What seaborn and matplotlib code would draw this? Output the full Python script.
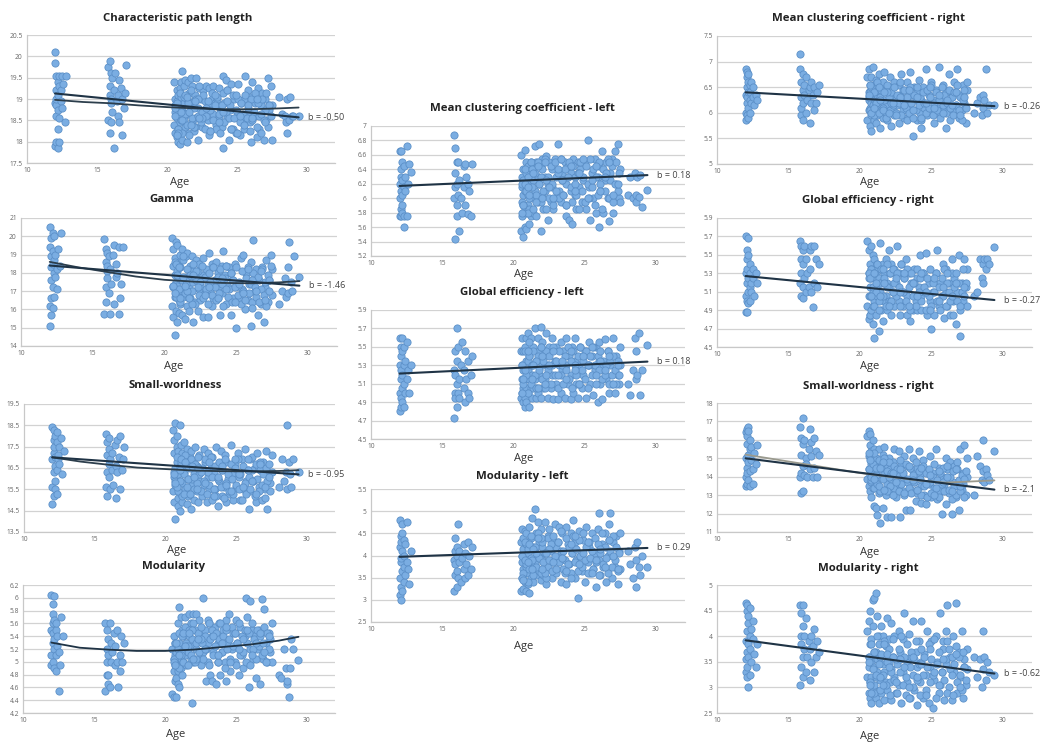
import matplotlib
matplotlib.use("Agg")
import matplotlib.pyplot as plt
import pandas as pd
import seaborn as sns

ages = [12.0,12.0,12.0,12.0,12.1,12.1,12.1,12.1,12.1,12.1,
12.2,12.2,12.2,12.2,12.2,12.3,12.3,12.3,12.3,12.4,
12.4,12.5,12.5,12.6,12.7,12.8,
15.8,15.8,15.9,15.9,15.9,15.9,16.0,16.0,16.0,16.0,
16.1,16.1,16.2,16.2,16.3,16.4,16.5,16.5,16.6,16.6,
16.7,16.8,16.8,16.9,17.0,17.1,
20.5,20.5,20.6,20.6,20.6,20.6,20.7,20.7,20.7,20.7,
20.8,20.8,20.8,20.8,20.9,20.9,20.9,20.9,21.0,21.0,
21.0,21.0,21.1,21.1,21.1,21.2,21.2,21.2,21.3,21.3,
21.4,21.4,21.5,21.5,21.6,21.6,21.7,21.7,21.8,21.8,
21.9,21.9,22.0,22.0,22.1,22.2,22.2,22.3,22.4,22.4,
22.5,22.6,22.7,22.7,22.8,22.9,23.0,23.0,23.1,23.2,
23.3,23.3,23.4,23.5,23.6,23.7,23.7,23.8,23.9,24.0,
24.0,24.1,24.2,24.3,24.3,24.4,24.5,24.6,24.7,24.8,
24.9,25.0,25.1,25.2,25.3,25.4,25.5,25.6,25.7,25.8,
25.9,26.0,26.0,26.1,26.2,26.3,26.4,26.5,26.6,26.7,
26.8,26.9,27.0,27.1,27.2,27.3,27.4,27.5,27.5,28.0,
28.2,28.4,28.5,28.6,28.6,28.7,28.8,28.9,29.0,29.4,
20.6,20.7,20.8,20.9,21.0,21.0,21.1,21.2,21.3,21.4,
21.5,21.6,21.7,21.8,21.9,22.0,22.1,22.2,22.3,22.4,
22.5,22.6,22.7,22.8,22.9,23.0,23.1,23.2,23.3,23.4,
23.5,23.6,23.7,23.8,23.9,24.0,24.1,24.2,24.3,24.4,
24.5,24.6,24.7,24.8,24.9,25.0,25.1,25.2,25.3,25.4,
25.5,25.6,25.7,25.8,25.9,26.0,26.1,26.2,26.3,26.4,
26.5,26.6,26.7,26.8,26.9,27.0,27.1,27.2,27.3,27.4,
20.6,20.8,21.1,21.3,21.6,21.9,22.2,22.5,22.8,23.1,
23.4,23.7,24.0,24.3,24.6,24.9,25.2,25.5,25.8,26.1,
26.4,26.7,27.0,27.3,20.7,21.0,21.4,21.7,22.0,22.3]

cpl = [20.1,19.85,18.9,17.9,19.2,18.85,18.0,19.55,18.6,19.0,
17.85,19.4,18.75,18.3,19.1,19.55,18.55,18.0,19.3,18.95,
19.2,19.55,18.8,19.35,18.45,19.55,
19.75,18.5,19.9,19.3,18.2,19.1,19.0,19.6,18.9,18.45,
19.5,18.7,17.85,19.2,19.6,18.95,18.6,19.1,19.45,18.45,
19.25,18.15,19.0,18.8,19.15,19.8,
19.4,18.4,19.0,18.7,18.2,18.85,18.1,19.2,18.55,18.95,
18.3,19.1,18.0,18.65,19.25,18.45,17.95,18.85,18.6,19.05,
18.25,19.4,18.75,18.05,19.65,18.5,19.3,18.9,18.35,19.45,
18.0,19.0,18.65,19.4,18.2,19.15,18.8,19.5,18.45,19.3,
18.95,18.25,19.1,18.55,19.5,18.05,18.8,19.25,18.6,19.0,
18.35,19.2,18.75,18.95,19.3,18.5,19.25,18.85,18.25,19.0,
18.65,19.3,18.9,18.4,19.0,18.6,19.25,18.8,18.35,19.55,
17.85,18.9,19.45,18.55,19.2,18.05,18.75,19.35,18.3,19.0,
18.2,18.7,19.35,18.15,18.9,18.5,19.0,19.55,18.65,19.2,
18.45,18.0,19.05,19.4,18.6,18.9,18.1,19.25,18.3,18.85,
19.15,18.05,19.0,18.5,19.5,18.75,19.3,18.85,18.05,19.05,
18.65,18.6,18.45,19.0,18.2,18.5,19.05,18.6,18.6,18.6,
18.6,18.9,18.3,19.15,18.5,18.75,18.2,19.05,18.65,18.4,
18.9,18.15,19.2,18.55,18.8,18.35,19.0,18.6,19.3,18.45,
18.7,19.1,18.3,18.6,18.95,18.15,18.75,19.15,18.5,18.85,
18.3,19.05,18.65,18.2,18.85,19.15,18.45,18.7,19.2,18.55,
18.85,18.3,19.1,18.55,18.75,18.2,19.0,18.45,18.9,18.65,
18.3,19.1,18.55,18.8,18.25,19.0,18.5,18.7,19.15,18.35,
18.9,18.6,18.2,19.0,18.5,18.75,19.15,18.35,18.85,18.6,
18.8,18.2,18.5,19.1,18.7,18.35,19.0,18.55,18.8,18.25,
19.1,18.45,18.7,18.95,18.3,19.1,18.6,18.4,18.85,18.55,
19.0,18.65,18.45,18.85,18.15,18.7,19.05,18.4,18.95,18.55]

gamma = [20.5,15.1,19.4,16.2,18.3,15.7,19.9,17.6,18.9,16.6,
20.2,18.5,16.1,19.2,17.2,18.0,20.0,16.7,18.7,17.8,
19.0,18.2,17.1,19.3,18.4,20.2,
19.85,15.75,18.6,17.2,19.3,16.4,18.1,17.7,19.1,18.4,
16.9,18.9,15.75,18.2,17.4,19.0,19.5,16.3,18.5,17.8,
18.0,15.75,19.4,16.6,17.4,19.4,
19.9,16.2,18.4,15.6,19.3,17.2,17.9,16.7,14.6,18.8,
17.5,15.9,19.7,16.9,18.1,17.3,15.3,19.5,16.5,18.6,
17.7,15.8,19.0,16.3,18.3,17.0,15.7,19.3,16.7,18.7,
17.4,15.5,18.9,17.8,16.2,19.1,17.2,15.9,18.4,16.6,
18.9,17.5,15.3,18.1,16.4,17.8,18.7,15.9,17.1,18.5,
16.5,17.9,15.6,18.8,16.9,18.2,17.4,15.6,19.1,17.0,
16.2,18.5,16.6,17.6,18.6,16.6,18.0,17.3,15.7,18.4,
16.9,19.2,17.9,16.3,18.4,17.2,18.3,15.7,17.6,16.6,
18.5,15.0,17.3,16.6,18.8,17.1,19.0,16.0,18.0,16.5,
17.4,15.1,18.6,16.4,19.8,17.0,18.2,15.7,17.6,16.3,
18.3,15.3,17.2,18.7,16.4,17.6,19.0,16.8,18.2,16.3,
17.0,17.7,16.7,18.3,16.9,19.7,17.5,17.0,18.9,17.8,
17.3,18.6,16.7,17.9,17.1,18.3,16.4,17.6,18.9,16.9,
17.4,18.2,16.6,17.9,17.0,18.5,16.3,17.6,18.1,16.8,
17.3,18.4,16.6,17.8,17.1,16.3,18.0,17.5,16.8,18.3,
17.2,16.5,17.8,16.9,18.2,17.4,16.2,17.7,18.4,16.7,
17.1,18.0,16.4,17.6,17.2,18.3,16.8,17.5,16.3,18.1,
17.0,16.5,17.7,18.3,16.9,17.4,16.1,18.0,17.2,16.7,
17.8,16.4,17.1,18.2,16.8,17.5,16.2,17.9,17.0,18.4,
17.3,18.5,16.6,17.8,17.0,16.3,18.1,17.5,16.8,17.2,
18.3,16.6,17.7,17.1,18.0,16.4,17.4,16.9,18.2,17.6,
17.0,18.1,16.5,17.6,16.9,18.3,17.3,16.6,17.9,17.2]

small_world = [18.4,14.8,16.9,15.6,17.8,16.3,18.3,15.2,17.2,17.5,
15.5,16.6,18.0,17.0,15.9,17.7,16.4,15.3,18.2,16.9,
17.1,17.5,16.7,17.9,16.2,17.3,
18.1,15.6,17.1,16.3,17.7,15.2,16.7,17.4,16.1,17.9,
15.5,16.9,17.2,16.4,15.7,17.6,15.1,16.6,17.8,16.3,
17.0,15.5,18.0,16.4,16.9,17.5,
18.3,15.4,17.2,16.1,14.9,17.8,15.9,18.6,16.5,14.1,
17.5,15.6,16.8,18.0,14.7,16.2,17.3,15.1,18.5,15.9,
16.6,14.5,17.6,15.3,16.9,15.8,17.2,14.9,16.3,17.7,
15.5,16.6,14.8,17.4,16.0,15.2,17.0,16.5,14.6,17.3,
15.7,16.8,15.0,16.2,17.5,15.4,16.6,14.9,17.1,15.9,
16.4,15.2,17.4,15.7,16.8,14.9,16.1,17.2,15.5,16.5,
15.0,17.0,16.3,15.5,17.5,14.7,16.6,15.9,17.3,15.2,
16.4,15.6,17.1,14.9,16.8,16.0,15.3,17.6,16.2,15.0,
16.7,15.6,17.2,16.1,15.0,16.9,15.5,17.4,15.9,16.4,
14.6,16.9,15.4,17.0,15.9,16.5,14.9,17.2,15.6,16.4,
15.0,16.8,15.5,17.3,14.6,16.2,15.8,17.1,16.3,15.6,
16.9,15.9,16.3,18.5,15.5,16.8,16.2,15.6,16.9,16.3,
16.3,15.7,17.0,15.4,16.5,15.9,16.8,15.2,16.2,17.1,
15.6,16.6,15.3,16.9,16.0,15.5,16.7,15.8,17.0,16.2,
15.4,16.5,15.9,16.9,15.3,16.3,15.7,17.0,16.1,15.5,
16.6,15.2,16.0,16.8,15.6,16.4,15.1,16.9,15.8,16.2,
15.4,16.7,16.0,15.3,16.5,15.7,16.9,15.5,16.2,15.0,
16.6,15.8,15.3,16.9,16.1,15.5,16.4,15.9,15.2,16.7,
16.0,15.4,16.8,15.7,16.2,15.1,16.5,15.9,16.7,15.4,
16.2,15.6,16.9,15.3,16.0,16.6,15.5,16.3,15.8,16.8,
15.2,16.1,16.6,15.7,15.4,16.9,16.2,15.6,16.4,15.9,
15.3,16.7,15.6,16.1,15.8,16.4,16.8,15.3,16.1,16.5]

modularity = [6.05,5.1,5.5,4.95,5.9,5.3,5.75,5.0,5.45,5.6,
6.03,5.2,4.9,5.65,5.35,5.5,5.1,4.85,5.6,5.25,
5.4,4.55,5.15,4.95,5.7,5.4,
5.6,4.55,5.2,4.8,5.5,5.0,4.65,5.35,5.1,4.8,
5.6,4.6,5.3,5.0,5.15,5.45,4.95,5.25,5.0,5.5,
4.6,5.1,4.85,5.4,5.0,5.3,
5.2,4.5,5.05,4.45,5.4,4.85,5.1,4.7,4.95,5.3,
4.45,5.15,4.75,5.0,5.6,4.65,5.25,4.85,5.1,5.85,
4.6,5.3,4.9,5.7,5.05,5.5,4.8,5.2,5.4,5.0,
5.1,5.7,5.3,4.95,5.55,5.15,5.75,5.4,5.05,5.6,
4.35,5.25,5.75,5.0,5.5,5.2,5.75,5.35,5.05,5.65,
4.95,5.4,5.15,6.0,5.5,4.7,5.3,5.0,5.6,4.8,
5.4,4.7,5.15,5.55,4.65,5.3,5.0,5.6,4.8,5.4,
5.15,5.5,5.0,4.7,5.65,5.3,5.75,4.85,5.2,5.45,
5.0,5.65,5.3,4.8,5.55,5.1,4.9,5.4,6.0,5.7,
4.6,5.2,5.95,5.5,5.05,5.4,4.75,5.2,5.5,4.65,
5.98,5.05,5.83,5.3,5.0,5.45,5.15,5.6,5.0,4.8,
4.75,5.2,4.9,4.65,4.7,4.45,4.9,5.35,5.2,5.03,
5.05,5.3,4.95,5.2,5.45,4.9,5.15,5.4,5.0,5.55,
5.25,4.95,5.5,5.1,5.35,5.6,5.0,5.3,5.45,5.15,
5.55,5.3,5.05,5.4,5.2,5.65,4.95,5.35,5.5,5.1,
5.25,5.45,5.0,5.35,5.6,5.15,5.4,4.9,5.5,5.2,
5.35,5.05,5.55,5.25,5.45,4.95,5.3,5.6,5.1,5.4,
5.15,5.5,5.0,5.3,5.45,4.95,5.6,5.2,5.35,5.05,
5.5,5.25,5.4,5.1,5.3,5.55,5.0,5.45,5.2,5.35,
5.0,5.3,5.1,5.45,5.25,5.5,5.05,5.35,5.2,5.6,
5.4,5.1,5.3,5.55,5.0,5.45,5.2,5.35,5.5,5.1,
5.3,5.45,5.15,5.4,4.95,5.1,5.25,5.45,5.05,5.35]

mcc_left = [6.65,5.75,6.2,6.0,6.4,5.85,6.65,6.1,5.75,6.3,
6.5,5.8,6.05,6.25,5.9,6.15,5.6,6.45,5.75,6.1,
6.3,5.75,6.72,6.2,6.48,6.37,
6.87,6.0,5.43,6.7,6.15,6.35,5.9,6.5,6.2,5.75,
6.05,6.5,6.25,5.55,6.0,5.8,6.45,6.15,5.9,6.48,
6.3,5.78,6.2,6.1,5.75,6.48,
6.6,5.55,6.3,5.95,6.15,5.75,5.47,6.4,6.05,6.25,
5.85,6.67,5.6,6.1,6.35,5.8,6.5,5.58,6.2,5.9,
6.45,6.05,5.65,6.3,5.85,6.5,6.15,5.75,6.4,6.0,
6.25,5.8,6.73,6.1,6.5,5.75,6.3,5.95,6.75,6.2,
5.55,6.45,6.05,6.55,5.85,6.3,6.1,6.58,5.7,6.2,
6.5,5.95,6.4,6.15,5.85,6.55,6.0,6.3,6.75,6.1,
6.55,5.95,6.35,6.05,6.5,5.75,6.2,6.45,5.7,6.1,
6.35,5.65,6.55,6.05,6.3,5.85,6.5,6.15,6.4,5.95,
6.25,6.5,5.85,6.8,6.15,5.7,6.35,6.0,6.55,5.8,
6.3,5.6,6.45,6.1,6.65,5.8,6.25,6.5,6.0,5.68,
6.35,6.55,5.8,6.65,6.2,6.75,6.0,6.4,5.95,6.05,
6.3,6.0,6.35,6.05,5.95,6.3,6.02,6.32,5.88,6.12,
6.2,5.9,6.4,6.1,5.8,6.3,6.0,6.5,6.15,5.85,
6.35,6.05,6.5,6.2,5.95,6.4,6.1,6.55,5.85,6.3,
6.0,6.45,6.2,5.9,6.5,6.1,6.35,6.0,6.55,6.25,
6.05,6.4,5.9,6.3,6.5,6.15,5.95,6.45,6.2,6.05,
6.35,5.85,6.5,6.1,6.3,5.95,6.45,6.2,6.0,6.55,
6.15,6.4,5.9,6.3,6.05,6.5,6.2,5.85,6.4,6.1,
6.35,6.55,6.0,6.25,6.45,5.95,6.2,6.5,6.1,6.35,
5.8,6.2,6.05,6.4,5.95,6.3,6.5,6.15,6.0,6.4,
6.25,5.9,6.45,6.1,6.35,6.55,6.0,6.25,6.45,6.1,
6.3,6.5,6.05,6.2,5.9,6.15,6.35,6.45,6.0,6.25]

ge_left = [5.6,4.8,5.3,5.0,5.5,4.85,5.15,5.4,4.95,5.25,
5.6,4.9,5.2,5.05,5.45,4.85,5.3,5.1,5.5,5.0,
5.35,5.15,5.55,5.25,5.0,5.3,
5.25,4.73,5.45,5.0,4.95,5.2,5.7,5.1,4.85,5.35,
5.5,5.0,5.15,4.95,5.3,5.55,5.05,5.25,4.9,5.45,
5.15,5.0,5.35,4.95,5.2,5.4,
5.45,4.95,5.3,5.0,5.6,5.15,4.9,5.45,5.05,5.25,
4.95,5.5,5.15,4.85,5.35,5.05,5.6,4.9,5.25,5.45,
5.0,5.65,5.15,4.85,5.4,5.05,5.3,5.6,4.95,5.2,
5.5,5.05,5.7,5.15,4.95,5.35,5.6,5.0,5.45,5.2,
5.72,4.95,5.3,5.55,5.05,5.45,5.15,5.65,4.95,5.3,
5.5,5.05,5.2,5.6,4.93,5.35,5.5,5.1,4.93,5.3,
5.55,5.0,5.25,5.45,4.95,5.3,5.6,5.1,5.4,4.93,
5.2,5.5,5.0,5.35,5.6,5.1,4.95,5.3,5.5,5.05,
5.2,5.45,4.95,5.3,5.55,5.1,5.4,4.98,5.25,5.5,
4.9,5.35,5.55,5.1,4.93,5.3,5.58,5.15,5.45,5.0,
5.3,5.1,5.6,5.0,5.4,5.2,5.1,5.5,5.3,5.1,
4.98,5.25,5.6,5.15,5.45,5.2,5.65,4.98,5.25,5.52,
5.3,5.1,5.45,5.2,5.0,5.35,5.55,5.1,5.3,5.45,
5.2,5.05,5.4,5.25,5.5,5.15,5.35,5.05,5.45,5.25,
5.4,5.1,5.3,5.5,5.2,5.35,5.05,5.45,5.2,5.3,
5.1,5.4,5.25,5.5,5.15,5.35,5.05,5.45,5.3,5.2,
5.4,5.1,5.5,5.25,5.35,5.15,5.45,5.05,5.3,5.4,
5.2,5.5,5.3,5.1,5.4,5.25,5.45,5.15,5.35,5.2,
5.3,5.45,5.1,5.35,5.2,5.4,5.25,5.1,5.35,5.2,
5.0,5.25,5.4,5.15,5.35,5.5,5.1,5.3,5.45,5.2,
5.35,5.15,5.45,5.25,5.1,5.4,5.3,5.5,5.2,5.35,
5.25,5.4,5.1,5.3,5.15,5.45,5.3,5.05,5.4,5.2]

mod_left = [4.8,3.1,4.2,3.5,4.45,3.0,3.85,4.3,3.3,3.95,
4.7,3.65,4.1,3.2,4.5,3.75,4.0,3.4,4.35,3.55,
4.25,3.85,4.75,3.7,3.35,4.1,
3.9,3.2,4.1,3.55,3.8,4.4,3.3,4.0,3.65,4.2,
4.7,3.5,3.85,4.1,3.4,3.95,3.7,4.25,3.5,4.05,
3.8,4.3,3.55,4.0,3.7,4.2,
4.3,3.2,3.85,4.6,3.5,4.0,3.25,4.4,3.7,4.15,
3.4,3.9,4.55,3.6,3.2,4.25,3.75,4.5,3.35,4.05,
3.6,4.3,3.85,3.15,4.65,3.95,3.5,4.4,4.85,3.7,
4.2,3.4,5.05,3.8,4.5,3.55,4.0,4.75,3.65,4.3,
3.45,4.6,3.9,4.2,3.55,4.75,4.05,3.35,4.45,3.75,
4.6,4.1,3.5,4.35,3.85,4.7,3.6,4.2,3.95,4.65,
3.4,4.1,4.5,3.7,3.9,4.65,3.35,4.25,3.8,4.5,
3.6,4.05,4.8,3.5,4.3,3.9,3.05,4.55,4.0,3.65,
4.35,3.4,4.65,3.85,4.2,3.6,4.5,3.7,4.05,3.3,
4.6,3.9,4.95,3.55,4.25,3.75,4.5,3.4,4.0,4.7,
4.95,3.5,4.3,3.75,4.45,3.35,4.1,4.5,3.7,4.1,
3.8,3.5,4.2,3.9,3.3,4.3,3.75,3.55,4.0,3.75,
4.0,3.6,4.3,3.8,3.4,4.15,3.7,4.45,3.9,3.55,
4.2,3.75,4.5,3.95,3.6,4.3,3.85,4.05,3.5,4.4,
3.9,4.25,3.65,4.45,4.0,3.7,4.3,3.85,4.55,3.95,
4.1,3.6,4.4,3.8,4.2,3.5,4.05,4.45,3.85,4.15,
3.65,4.35,4.0,3.75,4.5,3.9,4.2,3.6,4.3,3.95,
4.1,3.7,4.4,3.85,4.25,3.55,4.05,4.5,3.8,4.2,
3.95,3.6,4.35,4.1,3.75,4.45,3.9,4.2,3.65,4.05,
3.5,3.9,4.25,3.7,4.05,4.4,3.6,4.15,3.85,4.3,
3.95,3.65,4.25,4.45,3.8,4.05,4.3,3.6,3.9,4.15,
3.75,4.35,4.0,3.7,3.45,3.85,4.15,4.4,3.7,4.05]

mcc_right = [6.85,5.85,6.35,6.0,6.7,6.2,6.5,5.95,6.8,6.3,
6.1,6.6,6.4,5.9,6.75,6.25,6.55,6.0,6.4,6.2,
6.6,6.3,6.5,6.15,6.35,6.25,
6.85,7.15,6.3,5.95,6.6,6.1,6.45,6.75,6.2,5.85,
6.55,6.35,6.0,6.7,6.25,6.45,5.8,6.5,6.2,6.6,
6.35,6.05,6.5,6.2,6.4,6.55,
6.7,5.85,6.4,6.05,6.85,6.25,5.75,6.55,6.1,6.4,
5.95,6.7,6.2,5.65,6.5,6.05,6.35,6.9,5.85,6.2,
6.55,6.0,6.4,5.8,6.65,6.15,6.35,5.95,6.75,6.25,
6.5,5.7,6.05,6.4,5.9,6.6,6.2,6.8,6.0,6.45,
6.15,5.85,6.5,6.25,6.7,5.75,6.35,6.05,6.6,5.95,
6.3,6.15,6.55,5.8,6.35,6.75,6.05,6.45,5.9,6.25,
6.6,5.85,6.15,6.8,6.35,5.55,6.05,6.5,6.25,5.85,
6.4,6.65,6.0,6.25,5.7,6.5,6.1,6.85,5.95,6.35,
6.05,6.6,6.25,5.8,6.45,6.1,6.9,5.95,6.3,6.55,
6.05,5.7,6.4,6.2,6.75,5.85,6.3,6.05,6.6,6.15,
6.85,5.9,6.35,6.05,6.55,6.2,5.8,6.45,6.6,6.0,
6.2,6.3,5.95,6.35,6.1,6.25,6.85,6.0,6.15,6.15,
6.3,6.05,6.5,6.15,5.95,6.4,6.2,6.6,6.0,6.3,
6.45,6.1,6.25,5.9,6.55,6.3,6.05,6.4,6.15,6.5,
6.0,6.35,6.2,6.6,5.95,6.25,6.45,6.1,6.3,6.0,
6.5,6.2,5.9,6.35,6.05,6.5,6.15,6.3,5.85,6.4,
6.2,6.0,6.45,6.1,6.3,6.55,5.95,6.2,6.4,6.05,
6.25,5.9,6.5,6.15,6.35,6.0,6.2,6.45,6.1,6.3,
5.95,6.4,6.15,6.55,6.05,6.3,5.85,6.25,6.45,6.1,
6.35,6.0,6.2,6.5,6.05,6.4,6.2,5.95,6.3,6.15,
6.45,6.05,6.3,5.9,6.2,6.5,6.1,6.35,6.0,6.25,
6.15,6.4,5.95,6.3,6.55,6.1,6.25,6.4,6.0,6.2]

ge_right = [5.7,4.88,5.3,5.05,5.55,4.88,5.2,5.45,5.0,5.35,
5.68,5.1,5.25,4.98,5.5,5.15,5.4,5.0,5.3,5.2,
5.1,5.35,5.25,5.05,5.3,5.2,
5.65,5.2,5.45,5.05,5.6,5.3,5.15,5.55,5.03,5.4,
5.25,5.6,5.1,5.45,5.3,5.15,5.55,5.35,5.1,5.6,
4.93,5.6,5.2,5.45,5.15,5.4,
5.65,4.95,5.3,4.8,5.55,5.05,4.85,5.4,5.15,4.85,
5.25,5.6,4.9,5.35,4.75,5.1,5.5,4.95,5.25,4.6,
5.45,5.0,5.3,5.15,4.85,5.35,5.05,5.4,4.67,5.25,
5.1,5.63,4.9,5.2,4.78,5.4,5.0,5.3,5.05,5.45,
4.9,5.2,5.55,5.0,5.3,4.85,5.4,5.1,5.35,4.95,
5.2,5.6,5.0,5.3,4.85,5.4,5.1,4.95,5.25,5.45,
5.05,4.85,5.3,4.78,5.2,4.9,5.2,5.35,5.0,5.25,
4.9,5.15,5.5,5.05,4.9,5.3,5.1,5.52,4.85,5.2,
5.0,4.7,5.1,4.85,5.3,5.55,4.95,5.2,5.05,5.4,
4.82,5.1,5.35,4.95,5.2,4.85,5.45,5.0,5.25,4.75,
5.1,5.5,4.62,5.2,5.0,5.45,5.15,4.95,5.35,5.05,
5.1,5.45,5.25,5.4,5.2,5.45,5.35,5.45,5.4,5.58,
5.25,5.05,5.35,5.15,4.95,5.3,5.1,5.4,5.0,5.2,
5.35,5.05,5.25,4.95,5.4,5.15,5.3,5.0,5.35,5.2,
5.05,5.3,5.15,4.95,5.4,5.1,5.25,5.0,5.35,5.15,
4.9,5.3,5.05,5.2,4.95,5.35,5.1,5.25,5.0,5.3,
5.15,4.9,5.25,5.05,5.35,4.95,5.2,5.1,5.3,5.0,
5.15,4.9,5.25,5.05,5.35,4.95,5.2,5.1,5.0,5.3,
4.85,5.15,5.3,5.0,5.2,4.9,5.1,5.35,5.05,5.2,
5.3,5.05,5.2,4.9,5.35,5.15,5.0,5.25,5.1,5.3,
4.95,5.2,5.05,5.3,5.1,4.9,5.25,5.0,5.15,5.3,
5.05,5.2,4.95,5.15,5.25,5.3,5.05,5.2,4.95,5.1]

sw_right = [16.4,13.5,15.0,14.0,16.6,14.5,15.8,13.6,16.2,14.2,
15.2,16.7,14.8,13.8,16.5,14.3,15.5,13.5,16.0,14.9,
15.6,14.4,13.6,15.3,14.7,15.7,
16.7,14.0,13.1,16.1,15.2,14.2,17.2,13.2,15.8,14.6,
14.1,16.0,15.0,14.7,14.0,15.5,16.6,14.4,15.9,15.1,
14.0,16.1,14.5,15.4,14.0,15.2,
16.2,13.9,15.1,14.4,16.5,13.5,15.7,14.1,13.2,16.3,
14.7,13.7,15.4,12.9,14.2,16.0,13.4,15.0,14.5,12.4,
15.5,13.8,14.3,12.3,15.0,13.5,11.9,14.6,13.1,15.5,
14.0,11.5,14.8,13.3,15.2,12.3,14.2,15.6,13.0,14.5,
13.6,11.8,15.0,13.2,14.4,13.9,11.8,14.8,13.4,15.5,
12.9,14.2,15.4,13.6,11.8,14.7,13.2,14.0,15.1,12.2,
13.7,14.6,15.5,12.2,13.3,14.3,15.0,13.7,12.7,14.5,
13.1,15.4,14.1,12.6,13.5,14.9,13.0,12.5,14.3,13.6,
15.1,12.9,14.2,13.4,15.5,12.8,14.5,13.2,12.0,14.0,
13.6,15.0,12.5,14.4,13.1,14.8,12.0,13.7,14.6,12.9,
14.8,12.2,15.5,13.3,14.2,15.7,13.0,14.0,15.0,13.0,
15.1,14.6,13.8,16.0,14.3,13.7,14.4,14.1,13.8,15.4,
14.4,15.1,13.8,14.7,13.4,15.3,14.1,13.6,14.9,13.2,
14.5,13.9,15.0,13.3,14.3,14.8,13.5,14.1,13.0,14.6,
13.8,14.4,13.2,14.9,13.6,14.2,13.0,14.7,13.9,13.4,
14.5,13.1,14.1,13.7,14.8,13.3,14.3,13.9,13.0,14.6,
13.5,14.2,12.9,14.4,13.7,13.1,14.0,14.7,13.4,13.8,
12.9,14.2,13.6,14.5,13.2,13.9,14.6,13.3,14.0,12.8,
14.3,13.5,13.0,14.4,13.8,13.2,14.1,13.6,12.9,14.3,
15.3,14.0,14.5,13.5,14.8,13.2,14.2,13.7,14.4,13.1,
14.6,13.8,13.3,14.5,13.6,14.1,13.0,14.3,13.7,14.0,
13.2,14.4,13.5,13.9,14.9,13.9,14.5,13.3,14.0,14.2]

mod_right = [4.65,3.3,3.9,3.55,4.5,3.2,4.1,3.7,4.6,3.4,
4.25,3.0,3.85,4.4,3.6,4.0,4.55,3.25,3.75,4.15,
3.5,3.95,4.3,3.65,3.4,3.85,
4.6,3.05,3.85,4.45,3.4,4.0,3.6,4.2,3.2,4.6,
3.75,4.0,3.3,4.35,3.6,3.9,3.15,3.75,4.0,3.5,
3.8,3.3,4.15,3.6,3.9,3.7,
4.1,3.2,3.6,2.9,4.3,3.4,2.8,3.85,3.1,4.5,
3.5,2.7,3.95,3.2,4.7,3.0,3.6,4.2,2.85,3.4,
4.75,3.05,3.7,4.85,2.8,3.3,4.4,3.55,2.7,4.0,
3.15,3.6,4.2,2.9,3.45,4.0,2.75,3.3,3.8,3.1,
4.35,2.95,3.5,3.95,3.1,4.25,2.75,3.6,3.2,4.0,
2.9,3.45,4.1,3.05,3.7,2.7,3.3,3.95,4.45,2.85,
3.5,3.1,4.05,2.8,3.6,3.25,4.3,2.95,3.7,3.4,
2.65,3.9,3.1,4.3,3.5,2.8,3.65,3.25,4.1,2.7,
3.4,3.9,2.6,3.15,4.0,3.5,2.9,4.45,3.3,3.75,
2.75,4.1,3.45,4.6,3.0,3.6,2.75,4.0,3.3,4.65,
2.9,3.7,3.2,4.1,2.8,3.55,3.05,3.75,3.35,3.6,
3.2,3.55,3.0,4.1,3.35,3.6,3.15,3.5,3.3,3.25,
3.6,3.1,3.85,3.35,2.9,3.7,3.2,4.0,3.45,2.95,
3.65,3.25,3.9,3.05,3.5,3.75,2.85,3.35,3.95,3.15,
3.55,2.9,3.75,3.3,4.0,3.05,3.6,3.2,3.85,2.8,
3.4,3.7,3.0,3.55,3.9,3.15,3.45,2.85,3.75,3.25,
3.6,2.95,3.4,3.85,3.1,3.55,3.25,3.95,2.8,3.45,
3.7,3.05,3.3,3.9,3.15,3.55,2.9,3.75,3.35,3.6,
2.85,3.45,3.8,3.1,3.6,3.25,2.95,3.7,3.4,3.15,
3.5,2.9,3.25,3.85,3.05,3.65,3.3,3.1,3.55,3.4,
3.0,3.6,3.2,3.45,2.85,3.75,3.3,3.05,3.55,3.9,
3.25,3.65,3.0,3.4,3.05,3.7,3.2,3.85,3.4,3.6]

titles = ["Characteristic path length", "Gamma", "Small-worldness", "Modularity",
          "Mean clustering coefficient - left", "Global efficiency - left", "Modularity - left",
          "Mean clustering coefficient - right", "Global efficiency - right",
          "Small-worldness - right", "Modularity - right"]
series = [cpl, gamma, small_world, modularity, mcc_left, ge_left, mod_left,
          mcc_right, ge_right, sw_right, mod_right]
yticks = [[17.5,18,18.5,19,19.5,20,20.5], [14,15,16,17,18,19,20,21],
          [13.5,14.5,15.5,16.5,17.5,18.5,19.5], [4.2,4.4,4.6,4.8,5,5.2,5.4,5.6,5.8,6,6.2],
          [5.2,5.4,5.6,5.8,6,6.2,6.4,6.6,6.8,7], [4.5,4.7,4.9,5.1,5.3,5.5,5.7,5.9],
          [2.5,3,3.5,4,4.5,5,5.5], [5,5.5,6,6.5,7,7.5], [4.5,4.7,4.9,5.1,5.3,5.5,5.7,5.9],
          [11,12,13,14,15,16,17,18], [2.5,3,3.5,4,4.5,5]]
labels = ["b = -0.50", "b = -1.46", "b = -0.95", "", "b = 0.18", "b = 0.18", "b = 0.29",
          "b = -0.26", "b = -0.27", "b = -2.1", "b = -0.62"]
fit_ages = [12.0, 29.4]
fit_values = [[19.13,18.57],[18.4,17.3],[17.0,16.2],[5.3,5.39],[6.17,6.32],[5.21,5.34],
              [3.97,4.17],[6.4,6.13],[5.27,5.01],[15.0,13.3],[3.92,3.27]]
curve_ages = [12,14,16,18,20,22,24,26,28,29.4]
curve_values = {0:[18.98,18.93,18.9,18.85,18.81,18.78,18.76,18.76,18.78,18.8],
                1:[18.6,18.3,18.05,17.8,17.62,17.52,17.45,17.43,17.48,17.55],
                2:[17.0,16.8,16.65,16.52,16.45,16.38,16.35,16.34,16.36,16.4],
                3:[5.3,5.22,5.19,5.17,5.17,5.19,5.23,5.27,5.33,5.39],
                9:[15.2,14.95,14.7,14.45,14.2,14.0,13.8,13.68,13.75,13.8]}

# px: x of age 10, x of age 30, y of top tick, y of bottom tick, title y, xlabel y
geom = [(27,307,35,163,18,182),(21,308,218,346,200,366),(24,307,404,532,385,550),(23,307,585,713,567,734),
        (371,656,126,256,108,275),(371,656,310,439,293,459),(371,656,489,622,477,647),
        (717,1003,36,164,18,182),(717,1003,218,347,201,367),(717,1003,403,532,386,553),(717,1003,585,713,568,736)]

W, H = 1050, 746
sns.set_theme(style="white")
plt.rcParams["font.family"] = ["Open Sans", "DejaVu Sans"]
fig = plt.figure(figsize=(W/100, H/100), dpi=100, facecolor="white")

for i, title in enumerate(titles):
    x10, x30, yt, yb, ty, lab = geom[i]
    right = x10 + (x30 - x10) * 1.1
    ax = fig.add_axes([x10/W, 1 - yb/H, (right - x10)/W, (yb - yt)/H])
    n = min(len(ages), len(series[i]))
    df = pd.DataFrame({"age": ages[:n], "value": series[i][:n]})
    sns.scatterplot(data=df, x="age", y="value", ax=ax, color="#7AADE2", edgecolor="#5C90C8",
                    linewidth=0.6, s=27, marker="o", clip_on=False, zorder=3)
    if i != 3:
        sns.lineplot(x=fit_ages, y=fit_values[i], ax=ax, color="#1F3345", lw=1.5, zorder=5, errorbar=None)
    if i in curve_values:
        grey = "#9A9A8E" if i == 9 else ("#1F3345" if i == 3 else "#2C3E4C")
        sns.lineplot(x=curve_ages, y=curve_values[i], ax=ax, color=grey, lw=1.3, zorder=4, errorbar=None)
    ax.set_xlim(10, 32)
    ax.set_ylim(yticks[i][0], yticks[i][-1])
    ax.set_xticks([10, 15, 20, 25, 30])
    ax.set_yticks(yticks[i])
    ax.set_yticklabels([f"{v:g}" for v in yticks[i]])
    ax.tick_params(length=0, labelsize=4.8, labelcolor="#666666", pad=3)
    ax.grid(axis="y", color="#D2D2D2", lw=0.9)
    ax.set_axisbelow(True)
    for s in ["top", "right"]:
        ax.spines[s].set_visible(False)
    for s in ["left", "bottom"]:
        ax.spines[s].set_color("#C8C8C8")
        ax.spines[s].set_linewidth(0.9)
    ax.set_xlabel("")
    ax.set_ylabel("")
    if labels[i]:
        ax.annotate(labels[i], (29.4, fit_values[i][1]), xytext=(7, 0), textcoords="offset points",
                    fontsize=6.5, color="#444444", va="center", annotation_clip=False, zorder=6)
    cx = (x10 + 153) / W
    fig.text((x10 + 151) / W, 1 - ty/H, title, ha="center", va="center",
             fontsize=8.2, fontweight="bold", color="#222222")
    fig.text(cx, 1 - lab/H, "Age", ha="center", va="center", fontsize=8, color="#333333")

fig.savefig("out.png", dpi=100, facecolor="white")
